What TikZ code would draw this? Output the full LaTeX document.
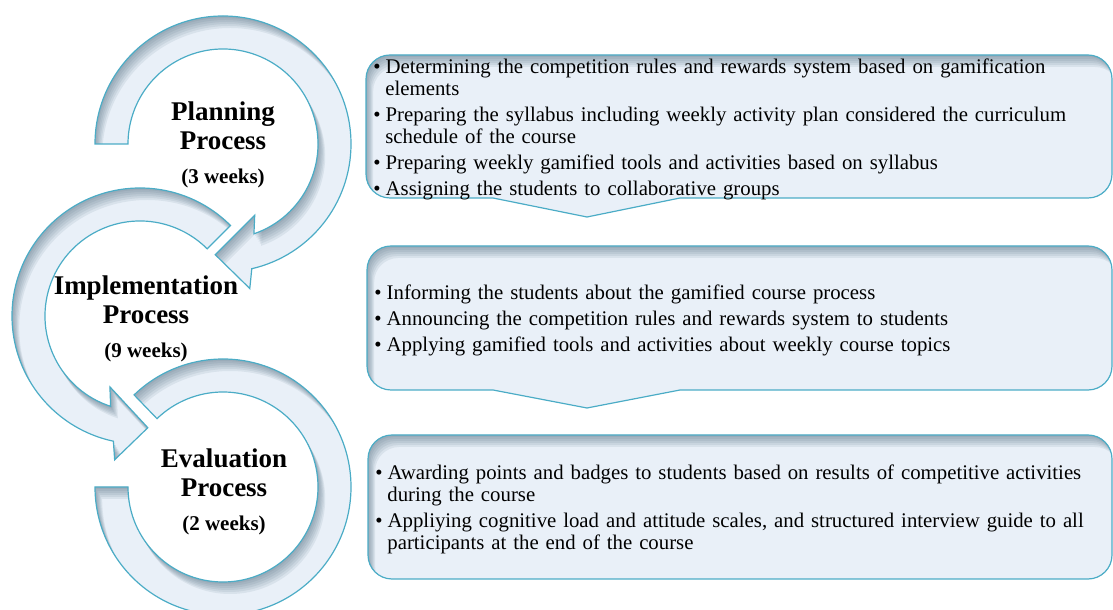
\documentclass[tikz,border=0pt]{standalone}
\usepackage{fontspec}
\setmainfont{Liberation Serif}
\usepackage{tikz}

\definecolor{ringfill}{RGB}{233,240,248}
\definecolor{ringedge}{RGB}{75,172,198}
\definecolor{ringshade}{RGB}{55,85,105}

\tikzset{
  piece/.style={fill=ringfill},
  rim/.style={draw=ringedge, line width=0.6pt},
  innershade/.style={fill=ringshade, opacity=0.09, even odd rule},
  title/.style={align=center, font=\bfseries\fontsize{13.5}{14.5}\selectfont},
  listtext/.style={anchor=north west, inner sep=0pt, text width=380pt,
    font=\fontsize{10.4}{11}\selectfont, execute at begin node={\setlength{\parskip}{2pt}}}
}

% filled shape with a soft inner shadow along its upper left edges
\newcommand{\softpiece}[1]{%
  \fill[piece] #1;
  \begin{scope}
    \clip #1;
    \foreach \s in {2,4,...,12}{\fill[innershade, shift={(0.6*\s,-\s)}] (-3000,-3000) rectangle (3000,3000) #1;}
  \end{scope}
  \draw[rim] #1;
}
\newcommand{\bulletline}[1]{\noindent\hangindent=6pt\hangafter=1\textbullet\hspace{2.5pt}#1\par}

% ring arrows, relative to their centres
\def\planring{(180:128) arc[start angle=180, end angle=-77, radius=128] -- (-79.5:147) -- (-94:111) -- (-66:78) -- (-71:95) arc[start angle=-71, end angle=180, radius=95] -- cycle}
\def\implring{(45:128) arc[start angle=45, end angle=258, radius=128] -- (260:146) -- (274:112) -- (247:77) -- (252:95) arc[start angle=252, end angle=45, radius=95] -- cycle}
\def\evalring{(134:128) arc[start angle=134, end angle=-180, radius=128] -- (-180:95) arc[start angle=-180, end angle=134, radius=95] -- cycle}

% callout boxes
\def\planbox{(493,412) -- (390,412) arc[start angle=270, end angle=180, radius=24] -- (366,531) arc[start angle=180, end angle=90, radius=24] -- (1088,555) arc[start angle=90, end angle=0, radius=24] -- (1112,436) arc[start angle=0, end angle=-90, radius=24] -- (680,412) -- (587,393) -- cycle}
\def\implbox{(493,220) -- (391,220) arc[start angle=270, end angle=180, radius=24] -- (367,340) arc[start angle=180, end angle=90, radius=24] -- (1088,364) arc[start angle=90, end angle=0, radius=24] -- (1112,244) arc[start angle=0, end angle=-90, radius=24] -- (680,220) -- (587,202) -- cycle}
\def\evalbox{(392,31) arc[start angle=270, end angle=180, radius=24] -- (368,151) arc[start angle=180, end angle=90, radius=24] -- (1088,175) arc[start angle=90, end angle=0, radius=24] -- (1112,55) arc[start angle=0, end angle=-90, radius=24] -- cycle}

\begin{document}
\begin{tikzpicture}[x=0.5pt, y=0.5pt]
\useasboundingbox (0,0) rectangle (1113,610);

\softpiece{\planbox}
\softpiece{\implbox}
\softpiece{\evalbox}

\begin{scope}[shift={(223,123)}]
\softpiece{\evalring}
\end{scope}
\begin{scope}[shift={(140,294)}]
\softpiece{\implring}
\end{scope}
\begin{scope}[shift={(223,466)}]
\softpiece{\planring}
\end{scope}

\node[title] (plan) at (223,465) {Planning\\Process\\[2.5pt]{\fontsize{10.5}{12}\selectfont (3 weeks)}};
\node[title] (impl) at (146,291) {Implementation\\Process\\[2.5pt]{\fontsize{10.5}{12}\selectfont (9 weeks)}};
\node[title] (eval) at (224,118) {Evaluation\\Process\\[2.5pt]{\fontsize{10.5}{12}\selectfont (2 weeks)}};

\node[listtext] (plantext) at (373,552) {%
\bulletline{Determining the competition rules and rewards system based on gamification\newline elements}
\bulletline{Preparing the syllabus including weekly activity plan considered the curriculum\newline schedule of the course}
\bulletline{Preparing weekly gamified tools and activities based on syllabus}
\bulletline{Assigning the students to collaborative groups}};

\node[listtext] (impltext) at (374,326) {%
\bulletline{Informing the students about the gamified course process}
\bulletline{Announcing the competition rules and rewards system to students}
\bulletline{Applying gamified tools and activities about weekly course topics}};

\node[listtext] (evaltext) at (375,146) {%
\bulletline{Awarding points and badges to students based on results of competitive activities\newline during the course}
\bulletline{Appliying cognitive load and attitude scales, and structured interview guide to all\newline participants at the end of the course}};
\end{tikzpicture}
\end{document}
